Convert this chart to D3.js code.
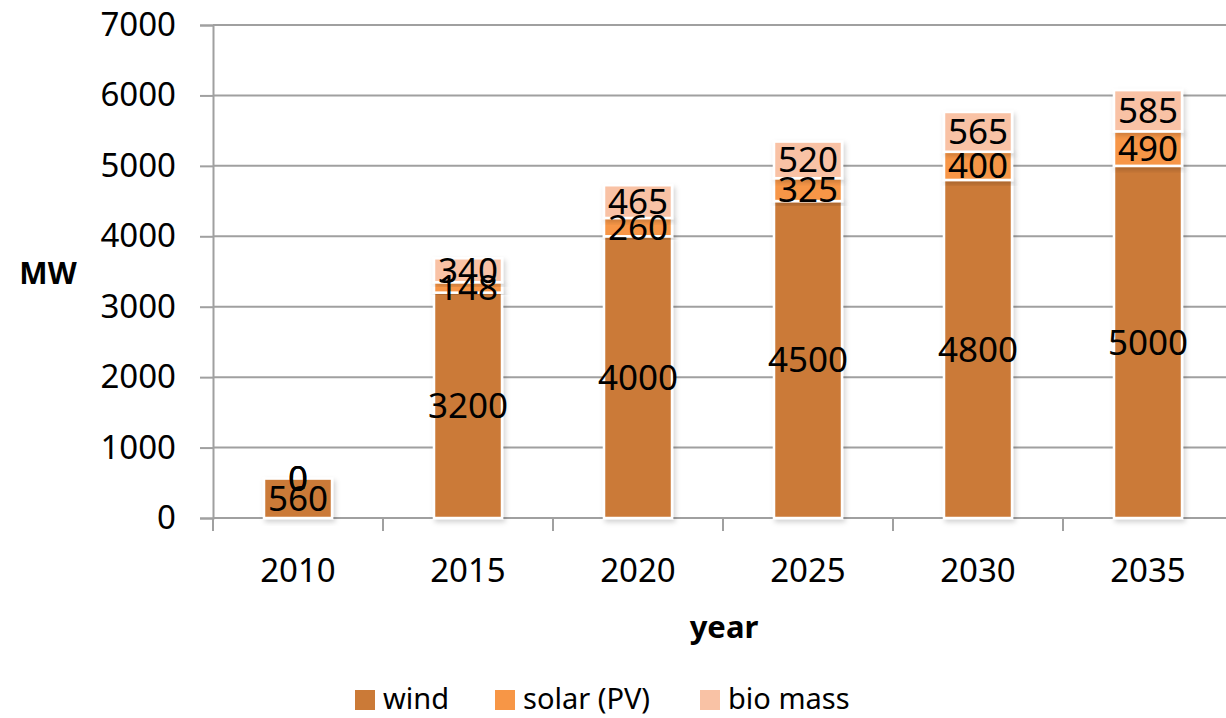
<!DOCTYPE html>
<html>
<head>
<meta charset="utf-8">
<script src="https://cdn.jsdelivr.net/npm/d3@7"></script>
<style>
  body { margin: 0; background: #fff; }
  text { font-family: "Noto Sans", sans-serif; fill: #000; }
</style>
</head>
<body>
<div id="chart"></div>
<script>
// data
const years = ["2010", "2015", "2020", "2025", "2030", "2035"];
const seriesNames = ["wind", "solar (PV)", "bio mass"];
const wind = [560, 3200, 4000, 4500, 4800, 5000];
const solar = [0, 148, 260, 325, 400, 490];
const biomass = [0, 340, 465, 520, 565, 585];
const yTicks = [0, 1000, 2000, 3000, 4000, 5000, 6000, 7000];
const colors = ["#CB7A37", "#F79646", "#F9C2A5"];

const width = 1226, height = 718;
const plot = { left: 213, right: 1233, top: 25, bottom: 518 };

const svg = d3.select("#chart").append("svg")
  .attr("width", width).attr("height", height);

const defs = svg.append("defs");
const f = defs.append("filter").attr("id", "shadow")
  .attr("x", "-20%").attr("y", "-20%").attr("width", "140%").attr("height", "140%");
f.append("feDropShadow").attr("dx", 2).attr("dy", 3).attr("stdDeviation", 2.5)
  .attr("flood-color", "#000").attr("flood-opacity", 0.18);

const x = d3.scaleBand().domain(years).range([plot.left, plot.right])
  .paddingInner(0.6).paddingOuter(0.3);
const y = d3.scaleLinear().domain([0, 7000]).range([plot.bottom, plot.top]);

// gridlines
svg.append("g").selectAll("line").data(yTicks.slice(1)).enter().append("line")
  .attr("x1", plot.left).attr("x2", plot.right)
  .attr("y1", d => y(d)).attr("y2", d => y(d))
  .attr("stroke", "#a0a0a0").attr("stroke-width", 2);

// y axis
const yAxis = svg.append("g").attr("transform", `translate(${plot.left},0)`)
  .call(d3.axisLeft(y).tickValues(yTicks).tickFormat(d3.format("d")).tickSize(13).tickPadding(24));
yAxis.select(".domain").attr("stroke", "#a0a0a0").attr("stroke-width", 2);
yAxis.selectAll(".tick line").attr("stroke", "#a0a0a0").attr("stroke-width", 2);
yAxis.selectAll("text").style("font-size", "33px").style("font-family", "Noto Sans");

// x axis
const xg = svg.append("g").attr("transform", `translate(0,${plot.bottom})`);
xg.append("line").attr("x1", plot.left).attr("x2", plot.right)
  .attr("stroke", "#a0a0a0").attr("stroke-width", 2);
const bounds = years.map(d => x(d) - x.step() * 0.3).concat([plot.right]);
xg.selectAll(".bt").data(bounds).enter().append("line")
  .attr("x1", d => d).attr("x2", d => d).attr("y1", 0).attr("y2", 13)
  .attr("stroke", "#a0a0a0").attr("stroke-width", 2);
xg.selectAll(".xl").data(years).enter().append("text")
  .attr("x", d => x(d) + x.bandwidth() / 2).attr("y", 64)
  .attr("text-anchor", "middle").style("font-size", "33px").text(d => d);

// stacked bars
const table = years.map((yr, i) => ({ year: yr, wind: wind[i], solar: solar[i], bio: biomass[i] }));
const stack = d3.stack().keys(["wind", "solar", "bio"])(table);

const layers = svg.append("g").selectAll("g").data(stack).enter().append("g")
  .attr("fill", (d, i) => colors[i]);
layers.selectAll("rect").data(d => d).enter().append("rect")
  .attr("x", d => x(d.data.year))
  .attr("width", x.bandwidth())
  .attr("y", d => y(d[1]))
  .attr("height", d => y(d[0]) - y(d[1]))
  .attr("stroke", "#fff").attr("stroke-width", 2.5)
  .attr("filter", "url(#shadow)");

// data labels
const labels = svg.append("g");
stack.forEach(layer => {
  labels.selectAll(null).data(layer).enter().append("text")
    .attr("x", d => x(d.data.year) + x.bandwidth() / 2)
    .attr("y", d => y((d[0] + d[1]) / 2))
    .attr("dy", "0.36em")
    .attr("text-anchor", "middle")
    .style("font-size", "35px")
    .text(d => d.data[layer.key]);
});

// axis titles
svg.append("text").attr("x", 48).attr("y", 284).attr("text-anchor", "middle")
  .style("font-size", "30px").style("font-weight", "bold").text("MW");
svg.append("text").attr("x", 724).attr("y", 638).attr("text-anchor", "middle")
  .style("font-size", "31px").style("font-weight", "bold").text("year");

// legend
const legendX = [355, 495, 700];
const legend = svg.append("g").selectAll("g").data(seriesNames).enter().append("g")
  .attr("transform", (d, i) => `translate(${legendX[i]},690)`);
legend.append("rect").attr("width", 20).attr("height", 20)
  .attr("fill", (d, i) => colors[i]);
legend.append("text").attr("x", 28).attr("y", 19)
  .style("font-size", "29px").text(d => d);
</script>
</body>
</html>
